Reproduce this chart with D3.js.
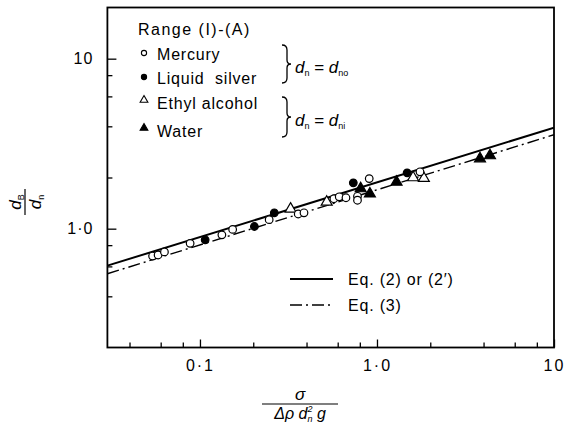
<!DOCTYPE html>
<html>
<head>
<meta charset="utf-8">
<script src="https://cdn.jsdelivr.net/npm/d3@7"></script>
<style>
  body { margin: 0; background: #fff; }
  svg { font-family: "Liberation Sans", Arial, sans-serif; }
</style>
</head>
<body>
<div id="chart"></div>
<script>
//data: [sigma/(d_rho d_n^2 g), d_B/d_n]
const mercury = [[0.054,0.69],[0.058,0.70],[0.063,0.73],[0.088,0.82],[0.133,0.92],[0.153,0.99],
    [0.246,1.13],[0.359,1.22],[0.387,1.24],[0.571,1.50],[0.612,1.54],[0.668,1.52],
    [0.776,1.55],[0.776,1.47],[0.904,1.97],[1.75,2.16]];
const silver = [[0.107,0.86],[0.203,1.03],[0.263,1.24],[0.735,1.86],[1.48,2.13]];
const ethyl = [[0.325,1.32],[0.52,1.45],[1.6,2.02],[1.84,2.0]];
const water = [[0.809,1.74],[0.912,1.62],[1.29,1.90],[3.82,2.61],[4.35,2.72]];

//the two fitted lines, end points
const lineX = [0.03, 10];
const eq2Y = [0.606, 3.93];
const eq3Y = [0.543, 3.57];

//ticks
const xMajor = [0.1, 1, 10];
const xMinor = [0.04,0.06,0.08,0.2,0.4,0.6,0.8,2,4,6,8];
const xLabels = ['0·1','1·0','10'];
const yMajor = [1, 10];
const yMinor = [0.4,0.6,0.8,2,4,6,8];
const yLabels = ['1·0','10'];

const W = 567, H = 439;
const LEFT = 107.4, RIGHT = 554, TOP = 7.5, BOTTOM = 347.5;

const svg = d3.select('#chart').append('svg').attr('width', W).attr('height', H);

const x = d3.scaleLog().domain([0.03, 10]).range([LEFT, RIGHT]);
const y = d3.scaleLog().domain([0.2, 20]).range([BOTTOM, TOP]);

//axes, ticks point inwards
function axisX(vals, size, labels){
    let a = d3.axisBottom(x).tickValues(vals).tickSize(-size).tickPadding(12)
        .tickFormat((d,i) => labels ? labels[i] : '');
    let g = svg.append('g').attr('transform','translate(0,' + BOTTOM + ')').call(a);
    g.select('.domain').remove();
    g.selectAll('line').attr('stroke-width', 1.3);
    g.selectAll('text').attr('font-size', 16).attr('letter-spacing', 2).attr('fill','#000');
}
function axisY(vals, size, labels){
    let a = d3.axisLeft(y).tickValues(vals).tickSize(-size).tickPadding(14)
        .tickFormat((d,i) => labels ? labels[i] : '');
    let g = svg.append('g').attr('transform','translate(' + LEFT + ',0)').call(a);
    g.select('.domain').remove();
    g.selectAll('line').attr('stroke-width', 1.3);
    g.selectAll('text').attr('font-size', 16).attr('letter-spacing', 1).attr('fill','#000');
}
axisX(xMajor, 8, xLabels);
axisX(xMinor, 5);
axisY(yMajor, 9, yLabels);
axisY(yMinor, 5);

//frame
svg.append('rect').attr('x', LEFT).attr('y', TOP).attr('width', RIGHT - LEFT).attr('height', BOTTOM - TOP)
    .attr('fill','none').attr('stroke','#000').attr('stroke-width', 1.8);

//clip for lines
svg.append('clipPath').attr('id','plotClip').append('rect')
    .attr('x', LEFT).attr('y', TOP).attr('width', RIGHT - LEFT).attr('height', BOTTOM - TOP);

const line = d3.line().x(d => x(d[0])).y(d => y(d[1]));
svg.append('path').datum(lineX.map((v,i) => [v, eq2Y[i]]))
    .attr('d', line).attr('fill','none').attr('stroke','#000').attr('stroke-width', 2)
    .attr('clip-path','url(#plotClip)');
svg.append('path').datum(lineX.map((v,i) => [v, eq3Y[i]]))
    .attr('d', line).attr('fill','none').attr('stroke','#000').attr('stroke-width', 1.4)
    .attr('stroke-dasharray','12,4,2,4')
    .attr('clip-path','url(#plotClip)');

//markers
const tri = d3.symbol().type(d3.symbolTriangle);
function points(data, kind, filled){
    let g = svg.append('g');
    if(kind == 'circle'){
        g.selectAll('circle').data(data).enter().append('circle')
            .attr('cx', d => x(d[0])).attr('cy', d => y(d[1])).attr('r', 3.8)
            .attr('fill', filled ? '#000' : '#fff').attr('stroke','#000').attr('stroke-width', 1.2);
    }else{
        g.selectAll('path').data(data).enter().append('path')
            .attr('d', tri.size(52)())
            .attr('transform', d => 'translate(' + x(d[0]) + ',' + (y(d[1]) + 0.8) + ')')
            .attr('fill', filled ? '#000' : '#fff').attr('stroke','#000').attr('stroke-width', 1.2);
    }
}
points(ethyl, 'tri', false);
points(mercury, 'circle', false);
points(silver, 'circle', true);
points(water, 'tri', true);

//legend top left
const leg = svg.append('g').attr('font-size', 16).attr('letter-spacing', 0.8);
leg.append('text').attr('x', 138).attr('y', 35).attr('letter-spacing', 1.5).text('Range (I)-(A)');
const legItems = [
    {name:'Mercury', kind:'circle', filled:false, y:60},
    {name:'Liquid  silver', kind:'circle', filled:true, y:84},
    {name:'Ethyl alcohol', kind:'tri', filled:false, y:109},
    {name:'Water', kind:'tri', filled:true, y:137}
];
legItems.forEach(it => {
    if(it.kind == 'circle'){
        leg.append('circle').attr('cx', 144).attr('cy', it.y - 7).attr('r', 2.6)
            .attr('fill', it.filled ? '#000' : '#fff').attr('stroke','#000').attr('stroke-width', 1.1);
    }else{
        leg.append('path').attr('d', tri.size(26)()).attr('transform','translate(144,' + (it.y - 9) + ')')
            .attr('fill', it.filled ? '#000' : '#fff').attr('stroke','#000').attr('stroke-width', 1.1);
    }
    leg.append('text').attr('x', 157).attr('y', it.y).text(it.name).attr('xml:space','preserve')
        .style('white-space','pre');
});

//braces
function brace(y0, y1){
    let m = (y0 + y1) / 2;
    let p = 'M282,' + y0 + ' Q287,' + y0 + ' 287,' + (y0 + 5) + ' L287,' + (m - 4) +
        ' Q287,' + m + ' 291,' + m + ' Q287,' + m + ' 287,' + (m + 4) + ' L287,' + (y1 - 5) +
        ' Q287,' + y1 + ' 282,' + y1;
    svg.append('path').attr('d', p).attr('fill','none').attr('stroke','#000').attr('stroke-width', 1.3);
}
brace(45, 83);
brace(97, 137);

function dEq(yb, sub){
    let t = svg.append('text').attr('x', 295).attr('y', yb).attr('font-size', 17);
    t.append('tspan').attr('font-style','italic').text('d');
    t.append('tspan').attr('font-size', 9).attr('dy', 3).text('n');
    t.append('tspan').attr('dy', -3).text(' = ');
    t.append('tspan').attr('font-style','italic').text('d');
    t.append('tspan').attr('font-size', 9).attr('dy', 3).text(sub);
}
dEq(73, 'no');
dEq(126, 'ni');

//line legend
svg.append('line').attr('x1', 290).attr('x2', 333).attr('y1', 279).attr('y2', 279)
    .attr('stroke','#000').attr('stroke-width', 2);
svg.append('text').attr('x', 348).attr('y', 285).attr('font-size', 16).attr('letter-spacing', 0.8)
    .text('Eq. (2) or (2′)');
svg.append('line').attr('x1', 290).attr('x2', 333).attr('y1', 305).attr('y2', 305)
    .attr('stroke','#000').attr('stroke-width', 1.4).attr('stroke-dasharray','12,4,2,4');
svg.append('text').attr('x', 348).attr('y', 311).attr('font-size', 16).attr('letter-spacing', 0.8)
    .text('Eq. (3)');

//y axis label, a rotated fraction d_B / d_n
const yl = svg.append('g').attr('transform','translate(25,202) rotate(-90)');
let num = yl.append('text').attr('text-anchor','middle').attr('y', -4).attr('font-size', 17);
num.append('tspan').attr('font-style','italic').text('d');
num.append('tspan').attr('font-size', 9).attr('dy', 3).text('B');
yl.append('line').attr('x1', -13).attr('x2', 13).attr('y1', 0).attr('y2', 0)
    .attr('stroke','#000').attr('stroke-width', 1.2);
let den = yl.append('text').attr('text-anchor','middle').attr('y', 16).attr('font-size', 17);
den.append('tspan').attr('font-style','italic').text('d');
den.append('tspan').attr('font-size', 9).attr('dy', 3).text('n');

//x axis label, sigma / (delta rho d_n^2 g)
const xl = svg.append('g').attr('transform','translate(300,404)');
xl.append('text').attr('text-anchor','middle').attr('y', -4).attr('font-size', 17)
    .attr('font-style','italic').text('σ');
xl.append('line').attr('x1', -38).attr('x2', 38).attr('y1', 0).attr('y2', 0)
    .attr('stroke','#000').attr('stroke-width', 1.2);
let xd = xl.append('text').attr('text-anchor','middle').attr('y', 15).attr('font-size', 16)
    .attr('font-style','italic');
xd.append('tspan').text('Δρ d');
xd.append('tspan').attr('font-size', 9).attr('dy', 3).text('n');
xd.append('tspan').attr('font-size', 9).attr('dy', -10).attr('dx', -5).text('2');
xd.append('tspan').attr('dy', 7).text(' g');
</script>
</body>
</html>
